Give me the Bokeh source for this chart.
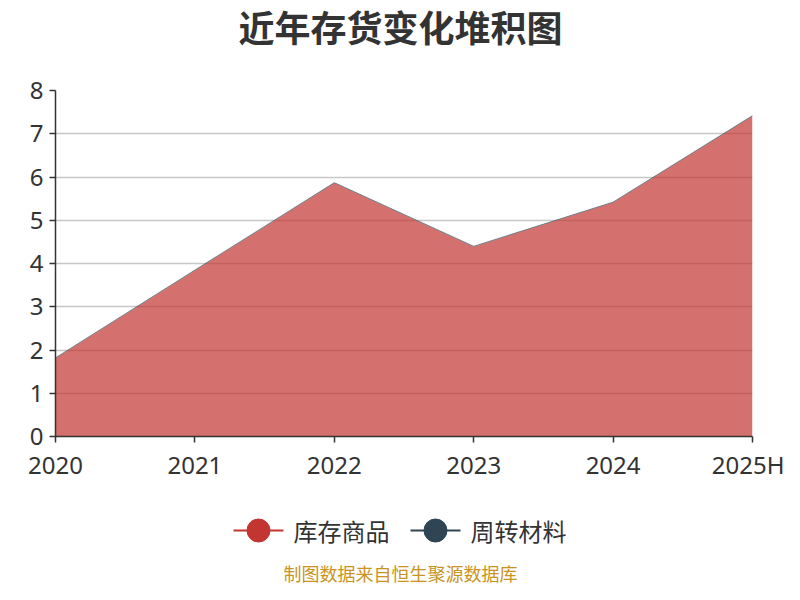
from bokeh.plotting import figure
from bokeh.models import ColumnDataSource, FixedTicker, Range1d
from bokeh.layouts import column
from bokeh.core.properties import value
from bokeh.embed import file_html
from bokeh.resources import INLINE

years = ["2020", "2021", "2022", "2023", "2024", "2025H"]
stock_goods = [1.81, 3.84, 5.86, 4.39, 5.41, 7.41]   # 库存商品
materials = [0.01, 0.01, 0.01, 0.01, 0.01, 0.01]     # 周转材料
y_ticks = [0, 1, 2, 3, 4, 5, 6, 7, 8]

title_text = "近年存货变化堆积图"
series_names = ["库存商品", "周转材料"]
series_colors = ["#c23531", "#2f4554"]
footer_text = "制图数据来自恒生聚源数据库"

CJK = "Noto Sans CJK SC"
NUM = "Noto Sans"
W = 784
TOP_H, MAIN_H, BOT_H = 72, 418, 94
FRAME_L, FRAME_R = 55, 752   # column aligns the frames of the stacked figures


def blank(h):
    f = figure(width=W, height=h, output_backend="svg", toolbar_location=None,
               x_range=Range1d(FRAME_L, FRAME_R), y_range=Range1d(h, 0),
               x_axis_location=None, y_axis_location=None, min_border=0,
               min_border_left=FRAME_L, min_border_right=W - FRAME_R)
    f.grid.visible = False
    f.outline_line_color = None
    return f


# ---- title ----
top = blank(TOP_H)
top.text(x=[400], y=[25], text=[title_text], text_align="center", text_baseline="middle",
         text_font=value(CJK), text_font_size="36px", text_font_style="bold",
         text_color="#333333")

# ---- main chart ----
xs = list(range(len(years)))
totals = [a + b for a, b in zip(stock_goods, materials)]
src = ColumnDataSource(dict(x=xs, goods=stock_goods, mat=materials, total=totals))

p = figure(width=W, height=MAIN_H, output_backend="svg", toolbar_location=None,
           x_range=Range1d(0, len(years) - 1), y_range=Range1d(0, 8),
           min_border_left=FRAME_L, min_border_right=W - FRAME_R,
           min_border_top=18, min_border_bottom=54)
p.outline_line_color = None

p.varea_stack(stackers=["goods", "mat"], x="x", source=src,
              color=series_colors, fill_alpha=0.7)
p.line(x="x", y="total", source=src, line_color="#2f4554", line_width=1, line_alpha=0.45)

p.xaxis.ticker = FixedTicker(ticks=xs)
p.xaxis.major_label_overrides = {i: y for i, y in enumerate(years)}
p.yaxis.ticker = FixedTicker(ticks=y_ticks)
for ax in (p.xaxis[0], p.yaxis[0]):
    ax.axis_line_color = "#333333"
    ax.axis_line_width = 1.5
    ax.major_tick_line_color = "#333333"
    ax.major_tick_line_width = 1.5
    ax.major_tick_out = 6
    ax.major_tick_in = 0
    ax.minor_tick_line_color = None
    ax.major_label_text_font = NUM
    ax.major_label_text_font_size = "24px"
    ax.major_label_text_color = "#333333"
p.xaxis.major_label_standoff = 5
p.yaxis.major_label_standoff = 6

p.xgrid.grid_line_color = None
p.ygrid.ticker = FixedTicker(ticks=y_ticks)
p.ygrid.grid_line_color = "#c8c8c8"
p.ygrid.grid_line_width = 1.5

# ---- legend + footer ----
bot = blank(BOT_H)
off = TOP_H + MAIN_H
leg_y = 530 - off
line_x0 = [233, 410]
text_x = [293, 470]
for name, col, lx, tx in zip(series_names, series_colors, line_x0, text_x):
    bot.segment(x0=[lx], y0=[leg_y], x1=[lx + 50], y1=[leg_y], line_color=col, line_width=2)
    bot.scatter(x=[lx + 25], y=[leg_y], size=23, marker="circle", fill_color=col, line_color=col)
    bot.text(x=[tx], y=[leg_y], text=[name], text_align="left", text_baseline="middle",
             text_font=value(CJK), text_font_size="24px", text_color="#333333")

bot.text(x=[400], y=[572 - off], text=[footer_text], text_align="center", text_baseline="middle",
         text_font=value(CJK), text_font_size="18px", text_color="#c8941e")

layout = column(top, p, bot, spacing=0)
open("out.html", "w").write(file_html(layout, INLINE))
